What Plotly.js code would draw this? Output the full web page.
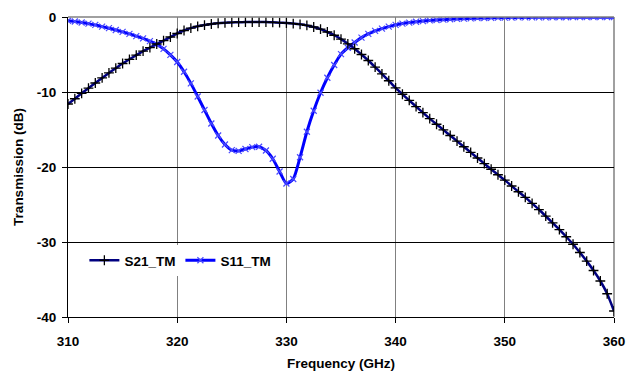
<!DOCTYPE html>
<html>
<head>
<meta charset="utf-8">
<script src="https://cdn.plot.ly/plotly-3.0.1.min.js"></script>
<style>html,body{margin:0;padding:0;background:#fff;}#chart{width:630px;height:371px;}</style>
</head>
<body>
<div id="chart"></div>
<script>
var freq = [310,310.625,311.25,311.875,312.5,313.125,313.75,314.375,315,315.625,316.25,316.875,317.5,318.125,318.75,319.375,320,320.625,321.25,321.875,322.5,323.125,323.75,324.375,325,325.625,326.25,326.875,327.5,328.125,328.75,329.375,330,330.625,331.25,331.875,332.5,333.125,333.75,334.375,335,335.625,336.25,336.875,337.5,338.125,338.75,339.375,340,340.625,341.25,341.875,342.5,343.125,343.75,344.375,345,345.625,346.25,346.875,347.5,348.125,348.75,349.375,350,350.625,351.25,351.875,352.5,353.125,353.75,354.375,355,355.625,356.25,356.875,357.5,358.125,358.75,359.375,360];

var s21_TM = [-11.6,-10.9,-10.18,-9.49,-8.8,-8.12,-7.46,-6.82,-6.2,-5.64,-5.09,-4.55,-4.07,-3.6,-3.14,-2.67,-2.2,-1.8,-1.48,-1.24,-1.07,-0.93,-0.83,-0.77,-0.72,-0.69,-0.68,-0.67,-0.67,-0.68,-0.71,-0.75,-0.8,-0.87,-0.97,-1.12,-1.33,-1.62,-2.0,-2.43,-2.95,-3.57,-4.23,-5.0,-5.8,-6.68,-7.58,-8.5,-9.45,-10.3,-11.12,-11.94,-12.75,-13.55,-14.3,-15.05,-15.8,-16.55,-17.3,-18.05,-18.8,-19.55,-20.3,-21.03,-21.75,-22.53,-23.3,-24.05,-24.85,-25.67,-26.55,-27.45,-28.35,-29.3,-30.3,-31.4,-32.55,-33.8,-35.2,-36.9,-39.2];

var s11_TM = [-0.5,-0.6,-0.73,-0.89,-1.06,-1.28,-1.49,-1.73,-1.98,-2.25,-2.54,-2.86,-3.22,-3.65,-4.25,-5.05,-6.0,-7.3,-8.85,-10.6,-12.4,-14.2,-15.8,-17.0,-17.75,-17.85,-17.6,-17.35,-17.3,-17.8,-18.9,-20.6,-22.2,-21.6,-18.7,-15.3,-12.5,-10.1,-8.1,-6.4,-4.95,-4.1,-3.4,-2.75,-2.25,-1.85,-1.55,-1.28,-1.05,-0.88,-0.74,-0.63,-0.54,-0.46,-0.4,-0.35,-0.3,-0.26,-0.22,-0.19,-0.16,-0.13,-0.11,-0.09,-0.08,-0.07,-0.06,-0.05,-0.05,-0.04,-0.04,-0.03,-0.03,-0.03,-0.02,-0.02,-0.02,-0.02,-0.02,-0.02,-0.02];

var xTicks = [310,320,330,340,350,360];
var yTicks = [0,-10,-20,-30,-40];

var FONT = 'Liberation Sans, Arial, sans-serif';
var FS = 13.5;

var traces = [
  {
    x: freq, y: s11_TM, name: 'S11_TM', type: 'scatter', mode: 'lines+markers',
    line: {color: '#0000FF', width: 3, shape: 'spline', smoothing: 0.6},
    marker: {symbol: 'x-thin', size: 6, line: {color: '#4a4aff', width: 1.2}, color: '#4a4aff'}
  },
  {
    x: freq, y: s21_TM, name: 'S21_TM', type: 'scatter', mode: 'lines+markers',
    line: {color: '#000080', width: 2.5, shape: 'spline', smoothing: 0.6},
    marker: {symbol: 'cross-thin', size: 7, line: {color: '#000000', width: 1.3}, color: '#000000'}
  }
];

var layout = {
  width: 630, height: 371,
  margin: {l: 68, r: 16, t: 17, b: 54},
  paper_bgcolor: '#ffffff', plot_bgcolor: '#ffffff',
  font: {family: FONT, size: FS, color: '#000'},
  showlegend: true,
  legend: {
    orientation: 'h', x: 0.03, y: 0.24, xanchor: 'left', yanchor: 'top',
    bgcolor: '#ffffff', borderwidth: 0, traceorder: 'reversed',
    font: {family: FONT, size: FS, weight: 700, color: '#000'},
    itemwidth: 30, tracegroupgap: 0
  },
  xaxis: {
    range: [310, 360], tickvals: xTicks, ticktext: xTicks.map(String),
    showgrid: true, gridcolor: '#808080', gridwidth: 1,
    showline: true, linecolor: '#000', linewidth: 1,
    ticks: 'outside', ticklen: 5, tickcolor: '#000', ticklabelstandoff: 7,
    tickfont: {family: FONT, size: FS, weight: 700},
    zeroline: false, fixedrange: true,
    title: {text: 'Frequency (GHz)', font: {family: FONT, size: FS, weight: 700}, standoff: 16}
  },
  yaxis: {
    range: [-40, 0], tickvals: yTicks, ticktext: yTicks.map(String),
    showgrid: true, gridcolor: '#000000', gridwidth: 1,
    showline: true, linecolor: '#000', linewidth: 1,
    ticks: 'outside', ticklen: 5, tickcolor: '#000', ticklabelstandoff: 3,
    tickfont: {family: FONT, size: FS, weight: 700},
    zeroline: false, fixedrange: true,
    title: {text: 'Transmission (dB)', font: {family: FONT, size: FS, weight: 700}, standoff: 10}
  },
  shapes: [
    {type: 'line', xref: 'paper', yref: 'paper', x0: 0, x1: 1, y0: 1, y1: 1, line: {color: '#808080', width: 1.5}, layer: 'above'},
    {type: 'line', xref: 'paper', yref: 'paper', x0: 1, x1: 1, y0: 0, y1: 1, line: {color: '#808080', width: 1.5}, layer: 'below'}
  ]
};

Plotly.newPlot('chart', traces, layout, {displayModeBar: false, staticPlot: true});
</script>
</body>
</html>
